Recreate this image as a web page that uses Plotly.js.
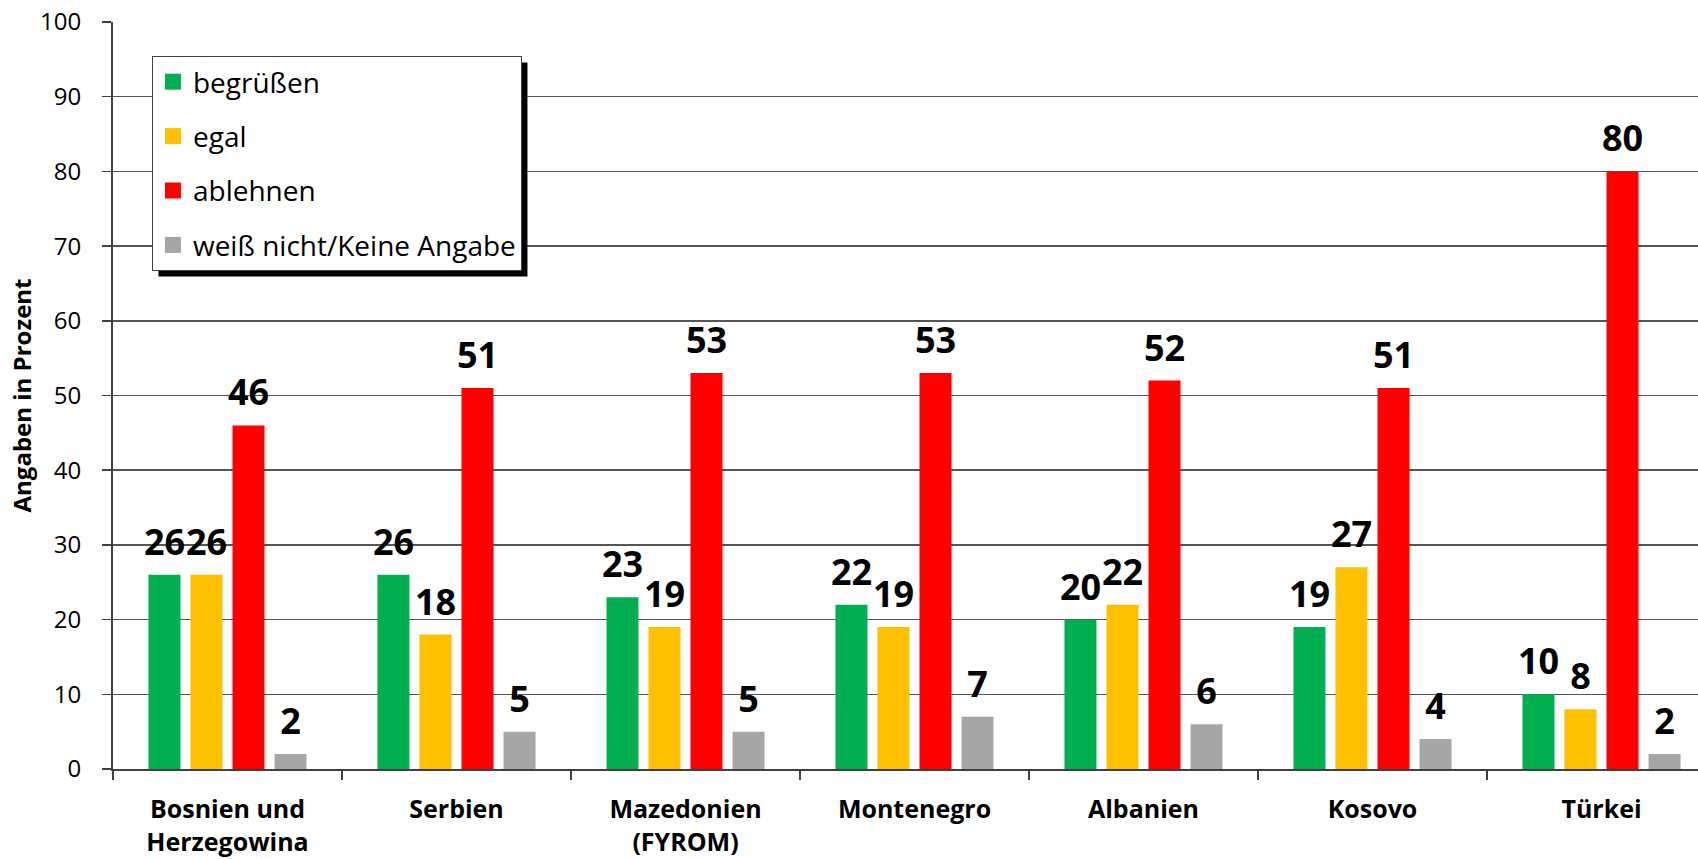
<!DOCTYPE html>
<html>
<head>
<meta charset="utf-8">
<script src="https://cdn.plot.ly/plotly-3.0.1.min.js"></script>
<style>
html,body{margin:0;padding:0;overflow:hidden;background:#fff;}
#chart{width:1718px;height:859px;}
</style>
</head>
<body>
<div id="chart"></div>
<script>
var categories = ['Bosnien und<br>Herzegowina','Serbien','Mazedonien<br>(FYROM)','Montenegro','Albanien','Kosovo','Türkei'];
var seriesNames = ['begrüßen','egal','ablehnen','weiß nicht/Keine Angabe'];
var begruessen = [26,26,23,22,20,19,10];
var egal = [26,18,19,19,22,27,8];
var ablehnen = [46,51,53,53,52,51,80];
var weissNicht = [2,5,5,7,6,4,2];
var yTicks = [0,10,20,30,40,50,60,70,80,90,100];

var seriesValues = [begruessen, egal, ablehnen, weissNicht];
var colors = ['#00B050','#FFC000','#FF0000','#A6A6A6'];
var FONT = '"Open Sans", "Noto Sans", sans-serif';

var traces = [];
seriesValues.forEach(function(vals, i){
  traces.push({
    type:'bar', x:categories, y:vals, name:seriesNames[i],
    marker:{color:colors[i], line:{width:0}},
    offsetgroup:'g'+i,
    showlegend:false, hoverinfo:'skip'
  });
});
seriesValues.forEach(function(vals, i){
  traces.push({
    type:'scatter', mode:'markers+text', x:categories, y:vals,
    text:vals.map(String), textposition:'top center',
    textfont:{family:FONT, size:36, color:'#000', weight:'bold'},
    marker:{size:16, color:'rgba(0,0,0,0)'},
    offsetgroup:'g'+i, showlegend:false, cliponaxis:false, hoverinfo:'skip'
  });
});
seriesValues.forEach(function(vals, i){
  traces.push({
    type:'scatter', mode:'markers', x:[null], y:[null], name:seriesNames[i],
    marker:{symbol:'square', size:18, color:colors[i]},
    offsetgroup:'g'+i, legendgroup:'lg'+i, showlegend:true, hoverinfo:'skip'
  });
});

var M = {l:113, r:2, t:22, b:90};
var layout = {
  width:1718, height:859,
  margin:M,
  paper_bgcolor:'#fff', plot_bgcolor:'#fff',
  font:{family:FONT, color:'#000'},
  barmode:'group', bargap:0.266, bargroupgap:0.238,
  scattermode:'group', scattergap:0.266,
  showlegend:true,
  legend:{
    x:0.0243, y:0.9545, xanchor:'left', yanchor:'top',
    bgcolor:'#fff', bordercolor:'#404040', borderwidth:1,
    font:{family:FONT, size:28, color:'#000'},
    tracegroupgap:15, traceorder:'grouped'
  },
  xaxis:{
    type:'category', showgrid:false, showline:true, linecolor:'#404040', linewidth:2,
    ticks:'outside', tickson:'boundaries', ticklen:9, tickwidth:1.5, tickcolor:'#404040',
    tickfont:{family:FONT, size:25, color:'#000', weight:'bold'},
    ticklabelstandoff:17, zeroline:false, fixedrange:true
  },
  yaxis:{
    range:[0,100], tickvals:yTicks, ticktext:yTicks.map(String),
    showgrid:true, gridcolor:'#555', gridwidth:1.5,
    showline:true, linecolor:'#404040', linewidth:2,
    ticks:'outside', ticklen:9, tickwidth:1.5, tickcolor:'#404040',
    tickfont:{family:FONT, size:24, color:'#000'},
    ticklabelstandoff:16, zeroline:false, fixedrange:true,
    title:{text:'Angaben in Prozent', font:{family:FONT, size:24, color:'#000', weight:'bold'}, standoff:2}
  },
  shapes:[]
};

Plotly.newPlot('chart', traces, layout, {displayModeBar:false, staticPlot:true}).then(function(gd){
  // legend drop shadow, placed from the rendered legend box
  var bg = gd.querySelector('.legend .bg');
  if(!bg) return;
  var r = bg.getBoundingClientRect();
  var g = gd.getBoundingClientRect();
  var pw = layout.width - M.l - M.r, ph = layout.height - M.t - M.b;
  var off = 6;
  var x0 = r.left - g.left + off, x1 = r.right - g.left + off;
  var yt = r.top - g.top + off, yb = r.bottom - g.top + off;
  return Plotly.relayout(gd, {shapes:[{
    type:'rect', xref:'paper', yref:'paper',
    x0:(x0 - M.l)/pw, x1:(x1 - M.l)/pw,
    y0:(M.t + ph - yb)/ph, y1:(M.t + ph - yt)/ph,
    fillcolor:'#000', line:{width:0}, layer:'above'
  }]});
});
</script>
</body>
</html>
